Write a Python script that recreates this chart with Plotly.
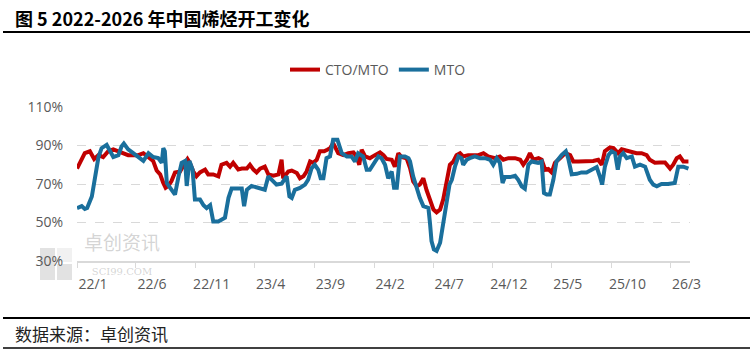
import plotly.graph_objects as go

# ---------------- data ----------------
red_dates = [
    "2022-01-01", "2022-01-09", "2022-01-21", "2022-02-03", "2022-02-14", "2022-02-25", "2022-03-09",
    "2022-03-22", "2022-04-04", "2022-04-17", "2022-04-30", "2022-05-12", "2022-05-25", "2022-06-07",
    "2022-06-20", "2022-07-03", "2022-07-15", "2022-07-24", "2022-08-02", "2022-08-10", "2022-08-16",
    "2022-08-23", "2022-08-31", "2022-09-09", "2022-09-22", "2022-10-05", "2022-10-11", "2022-10-17",
    "2022-10-26", "2022-11-03", "2022-11-12", "2022-11-25", "2022-12-03", "2022-12-16", "2022-12-29",
    "2023-01-06", "2023-01-19", "2023-01-28", "2023-02-05", "2023-02-18", "2023-02-27", "2023-03-12",
    "2023-03-20", "2023-03-29", "2023-04-06", "2023-04-15", "2023-04-27", "2023-05-06", "2023-05-19",
    "2023-06-01", "2023-06-09", "2023-06-13", "2023-06-26", "2023-07-05", "2023-07-18", "2023-07-26",
    "2023-08-04", "2023-08-12", "2023-08-21", "2023-08-29", "2023-09-07", "2023-09-15", "2023-09-26",
    "2023-10-04", "2023-10-11", "2023-10-19", "2023-10-26", "2023-11-01", "2023-11-14", "2023-11-27",
    "2023-12-10", "2023-12-18", "2023-12-25", "2023-12-31", "2024-01-09", "2024-01-21", "2024-02-03",
    "2024-02-16", "2024-02-25", "2024-03-04", "2024-03-17", "2024-03-25", "2024-04-03", "2024-04-11",
    "2024-04-24", "2024-05-03", "2024-05-11", "2024-05-20", "2024-05-28", "2024-06-06", "2024-06-14",
    "2024-06-23", "2024-07-02", "2024-07-10", "2024-07-19", "2024-07-27", "2024-08-05", "2024-08-13",
    "2024-08-22", "2024-08-30", "2024-09-08", "2024-09-16", "2024-09-29", "2024-10-12", "2024-10-25",
    "2024-11-07", "2024-11-19", "2024-12-07", "2024-12-19", "2024-12-28", "2025-01-10", "2025-01-27",
    "2025-02-09", "2025-02-17", "2025-02-26", "2025-03-06", "2025-03-15", "2025-03-28", "2025-04-05",
    "2025-04-14", "2025-04-22", "2025-05-01", "2025-05-09", "2025-05-22", "2025-06-04", "2025-06-17",
    "2025-06-25", "2025-07-08", "2025-07-29", "2025-08-15", "2025-08-28", "2025-09-06", "2025-09-14",
    "2025-09-27", "2025-10-06", "2025-10-18", "2025-10-27", "2025-11-09", "2025-11-21", "2025-12-04",
    "2025-12-17", "2025-12-30", "2026-01-07", "2026-01-20", "2026-02-02", "2026-02-15", "2026-02-28",
    "2026-03-08", "2026-03-17", "2026-03-25", "2026-04-03", "2026-04-16",
]
red_vals = [
    78, 81, 86, 87, 83, 85, 84,
    87, 88, 87, 86, 85, 85, 85,
    86, 84, 82, 77, 75, 70.5, 68,
    69, 71.5, 76, 76.5, 81, 83, 81,
    76.5, 74, 76, 77.5, 75, 75, 74,
    80, 81, 79, 81, 77.5, 78, 78,
    80, 77.5, 76, 78, 79, 75, 74.3,
    75, 82.6, 73, 76.5, 77, 75.7, 73,
    74, 76.5, 81.7, 81, 82.6, 87, 87,
    87.8, 88.6, 91.2, 87.8, 86, 85, 86,
    86.4, 84.3, 80, 87.8, 84.3, 83.4, 85,
    86.4, 85, 83, 82.6, 79, 86, 84,
    83.4, 78.3, 71.4, 68.8, 69.7, 73, 67,
    62, 56.7, 55.3, 56.7, 62, 72.2, 80,
    81.7, 85, 86, 84.3, 85, 85, 85,
    86, 84.3, 83.4, 84.3, 82.6, 83.4, 83.4,
    82.6, 80, 82.6, 86, 82.6, 83.4, 82.6,
    77.4, 77.8, 76, 81, 83.4, 86, 85,
    81.7, 81.7, 81.7, 82, 82.6, 80, 87,
    89, 88.6, 86, 88, 87.2, 87, 86,
    86, 85, 82.6, 81, 81.2, 81.2, 78,
    80, 83.4, 84.3, 81.7, 81.7,
]

blue_dates = [
    "2022-01-01", "2022-01-13", "2022-01-21", "2022-01-27", "2022-02-08", "2022-02-16", "2022-02-25",
    "2022-03-05", "2022-03-18", "2022-03-27", "2022-04-04", "2022-04-17", "2022-04-25", "2022-05-01",
    "2022-05-12", "2022-05-25", "2022-06-07", "2022-06-20", "2022-07-03", "2022-07-15", "2022-07-28",
    "2022-08-06", "2022-08-10", "2022-08-14", "2022-08-19", "2022-08-27", "2022-09-09", "2022-09-18",
    "2022-09-26", "2022-10-05", "2022-10-09", "2022-10-16", "2022-10-24", "2022-10-30", "2022-11-12",
    "2022-11-21", "2022-11-29", "2022-12-08", "2022-12-16", "2022-12-29", "2023-01-07", "2023-01-15",
    "2023-01-24", "2023-02-01", "2023-02-14", "2023-02-27", "2023-03-05", "2023-03-12", "2023-03-24",
    "2023-04-02", "2023-04-15", "2023-04-27", "2023-05-06", "2023-05-19", "2023-05-27", "2023-06-09",
    "2023-06-22", "2023-06-29", "2023-07-05", "2023-07-13", "2023-07-26", "2023-08-08", "2023-08-16",
    "2023-08-25", "2023-09-02", "2023-09-11", "2023-09-17", "2023-09-24", "2023-10-02", "2023-10-11",
    "2023-10-19", "2023-10-30", "2023-11-10", "2023-11-23", "2023-12-05", "2023-12-14", "2023-12-22",
    "2024-01-04", "2024-01-13", "2024-01-21", "2024-02-03", "2024-02-12", "2024-02-20", "2024-02-29",
    "2024-03-08", "2024-03-17", "2024-03-23", "2024-03-30", "2024-04-07", "2024-04-20", "2024-04-29",
    "2024-05-03", "2024-05-11", "2024-05-20", "2024-05-28", "2024-06-06", "2024-06-19", "2024-06-23",
    "2024-06-27", "2024-07-03", "2024-07-10", "2024-07-19", "2024-07-23", "2024-07-27", "2024-08-05",
    "2024-08-12", "2024-08-18", "2024-08-26", "2024-09-04", "2024-09-12", "2024-09-16", "2024-09-25",
    "2024-10-03", "2024-10-16", "2024-10-29", "2024-11-11", "2024-11-24", "2024-12-02", "2024-12-11",
    "2024-12-19", "2024-12-26", "2025-01-01", "2025-01-14", "2025-01-27", "2025-02-04", "2025-02-13",
    "2025-02-21", "2025-03-02", "2025-03-10", "2025-03-19", "2025-03-27", "2025-04-05", "2025-04-11",
    "2025-04-18", "2025-04-26", "2025-05-05", "2025-05-13", "2025-05-26", "2025-06-06", "2025-06-12",
    "2025-06-21", "2025-07-04", "2025-07-16", "2025-07-29", "2025-08-11", "2025-08-24", "2025-09-01",
    "2025-09-07", "2025-09-14", "2025-09-23", "2025-10-01", "2025-10-10", "2025-10-17", "2025-10-23",
    "2025-10-31", "2025-11-09", "2025-11-22", "2025-11-30", "2025-12-13", "2025-12-26", "2026-01-07",
    "2026-01-16", "2026-01-25", "2026-02-06", "2026-02-23", "2026-03-12", "2026-03-21", "2026-04-03",
    "2026-04-16",
]
blue_vals = [
    57.5, 58.5, 57, 57.5, 63.5, 74, 84,
    88.6, 90.3, 87, 84, 85, 89.5, 91,
    88, 86, 84, 82, 86, 84, 83.5,
    81, 88.6, 87, 70.5, 68, 64.5, 74,
    81, 82, 69, 82, 77.5, 62, 62,
    59, 57.5, 59, 50.5, 50.5, 51.5, 52.5,
    62.8, 67.6, 67.6, 67.6, 58.5, 67, 69,
    68.5, 67.6, 67, 74, 71.4, 69.7, 70.2,
    74, 63.6, 62.8, 67, 68, 69.7, 72.2,
    78.3, 80, 77.4, 73, 73, 83.4, 84.3,
    93, 93, 86, 84.3, 84.3, 81.7, 86,
    84.3, 77.4, 77.4, 81.2, 84.3, 83.4, 80,
    73, 76.5, 68, 68, 84.3, 84.3, 83.4,
    81.7, 74, 67, 62.8, 58.5, 57.6, 49.8,
    40.3, 36, 35.2, 39.5, 44.7, 47.3, 60.2,
    69.7, 72.2, 79, 84.3, 83.4, 80, 82.6,
    83.4, 84.3, 83.4, 83.4, 82.6, 80, 83.4,
    81, 70.5, 73.6, 73.6, 74.3, 72.2, 68.8,
    67.6, 80, 81.7, 81.2, 81, 81.7, 65.3,
    64.5, 64.5, 72.2, 81.7, 85, 87, 83.4,
    75, 75.3, 76, 76, 77.4, 78.8, 74,
    69.7, 79, 85, 87, 86, 77.4, 84.3,
    86, 83.4, 84.3, 79, 80, 79, 72.2,
    69.7, 68.8, 70, 70, 70.5, 79, 79,
    78,
]

tick_dates = ["2022-01-01", "2022-06-01", "2022-11-01", "2023-04-01", "2023-09-01", "2024-02-01",
              "2024-07-01", "2024-12-01", "2025-05-01", "2025-10-01", "2026-03-01"]
tick_labels = ["22/1", "22/6", "22/11", "23/4", "23/9", "24/2", "24/7", "24/12", "25/5", "25/10", "26/3"]
y_ticks = [30, 50, 70, 90, 110]
y_labels = ["30%", "50%", "70%", "90%", "110%"]

series_names = ["CTO/MTO", "MTO"]
title_text = "图 5 2022-2026 年中国烯烃开工变化"
source_text = "数据来源：卓创资讯"

# ---------------- figure ----------------
RED = "#C00000"
BLUE = "#1A6F9C"
GRID = "#D9D9D9"
TICKC = "#595959"

fig = go.Figure()
fig.add_trace(go.Scatter(x=red_dates, y=red_vals, mode="lines", name=series_names[0],
                         line=dict(color=RED, width=4)))
fig.add_trace(go.Scatter(x=blue_dates, y=blue_vals, mode="lines", name=series_names[1],
                         line=dict(color=BLUE, width=4)))

# pixel helpers for paper coords (plot area: x 77..690, y 107..261)
L, R, T, B = 77, 690, 107, 261
def px(x):
    return (x - L) / (R - L)
def py(y):
    return (B - y) / (B - T)

fig.update_layout(
    width=753, height=353,
    margin=dict(l=L, r=753 - R, t=T, b=353 - B),
    paper_bgcolor="white", plot_bgcolor="white",
    font=dict(family="Open Sans, Noto Sans CJK SC, sans-serif", color=TICKC, size=14),
    showlegend=True,
    legend=dict(orientation="h", x=px(378), xanchor="center", y=py(70), yanchor="middle",
                font=dict(size=14, color=TICKC, family="Open Sans, Noto Sans CJK SC"),
                itemwidth=30, tracegroupgap=0, bgcolor="rgba(0,0,0,0)"),
    xaxis=dict(type="date", range=["2022-01-01", "2026-04-20"],
               tickmode="array", tickvals=tick_dates, ticktext=tick_labels,
               ticks="outside", ticklen=5, tickcolor=GRID, tickwidth=1,
               showline=True, linecolor=GRID, linewidth=1.5,
               showgrid=False, zeroline=False,
               tickfont=dict(size=14, color=TICKC),
               ticklabelshift=16, ticklabelstandoff=4),
    yaxis=dict(range=[30, 110], tickmode="array", tickvals=y_ticks, ticktext=y_labels,
               showgrid=True, gridcolor=GRID, griddash="dash", gridwidth=1,
               zeroline=False, showline=False, ticks="",
               tickfont=dict(size=14, color=TICKC), ticklabelstandoff=13),
)

shapes = [
    dict(type="line", xref="paper", yref="paper", x0=px(3), x1=px(750), y0=py(32), y1=py(32),
         line=dict(color="black", width=2)),
    dict(type="line", xref="paper", yref="paper", x0=px(3), x1=px(750), y0=py(318), y1=py(318),
         line=dict(color="black", width=2)),
    dict(type="line", xref="paper", yref="paper", x0=px(3), x1=px(750), y0=py(348), y1=py(348),
         line=dict(color="black", width=1.5)),
    # watermark logo
    dict(type="rect", xref="paper", yref="paper", x0=px(40), x1=px(55), y0=py(280), y1=py(248),
         fillcolor="rgba(190,190,190,0.45)", line=dict(width=0), layer="below"),
    dict(type="rect", xref="paper", yref="paper", x0=px(57), x1=px(72), y0=py(280), y1=py(264),
         fillcolor="rgba(190,190,190,0.45)", line=dict(width=0), layer="below"),
    dict(type="rect", xref="paper", yref="paper", x0=px(57), x1=px(72), y0=py(262), y1=py(248),
         fillcolor="rgba(215,215,215,0.35)", line=dict(width=0), layer="below"),
]
fig.update_layout(shapes=shapes)

watermark = ("卓创资讯<br><span style='font-size:10px;font-family:DejaVu Serif'>SCI99.COM</span>")

annotations = [
    dict(text="<b>" + title_text + "</b>", xref="paper", yref="paper", x=px(13), y=py(18),
         xanchor="left", yanchor="middle", showarrow=False,
         font=dict(family="Noto Sans CJK SC", size=18, color="black")),
    dict(text=source_text, xref="paper", yref="paper", x=px(13), y=py(333),
         xanchor="left", yanchor="middle", showarrow=False,
         font=dict(family="Noto Sans CJK SC", size=17, color="#222222")),
    dict(text=watermark, xref="paper", yref="paper", x=px(122), y=py(252),
         xanchor="center", yanchor="middle", showarrow=False,
         font=dict(family="Noto Sans CJK SC", size=19, color="rgba(160,160,160,0.45)")),
]
fig.update_layout(annotations=annotations)

fig.write_html("out.html")
